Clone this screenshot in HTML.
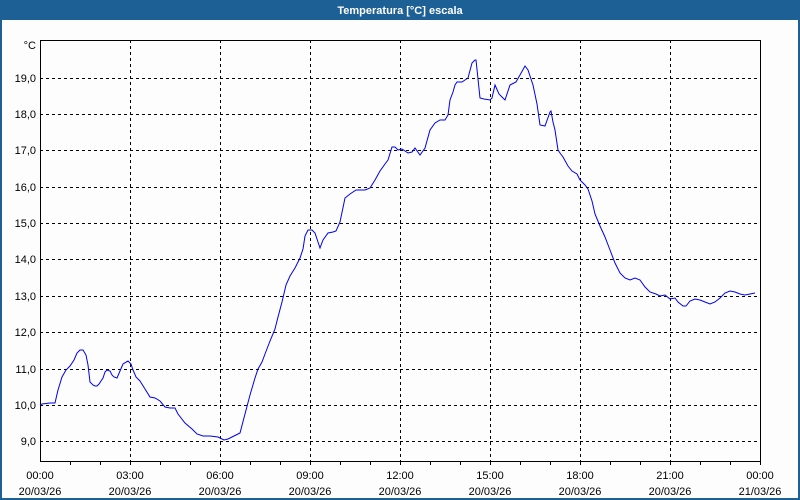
<!DOCTYPE html>
<html><head><meta charset="utf-8"><style>
html,body{margin:0;padding:0;background:#fff}
svg{display:block}
text{font-family:"Liberation Sans","DejaVu Sans",sans-serif;font-size:11px;fill:#000}
</style></head><body>
<svg width="800" height="500" xmlns="http://www.w3.org/2000/svg">
<rect x="0" y="0" width="800" height="500" fill="#1d6096"/>
<rect x="2" y="20" width="796" height="478" fill="#fcfdfc"/>
<text x="400" y="14" text-anchor="middle" style="fill:#fff;font-weight:bold;font-size:11px">Temperatura [°C] escala</text>
<g stroke="#000" stroke-width="1" stroke-dasharray="3,3" shape-rendering="crispEdges">
<line x1="130.5" y1="40" x2="130.5" y2="461"/><line x1="220.5" y1="40" x2="220.5" y2="461"/>
<line x1="310.5" y1="40" x2="310.5" y2="461"/><line x1="400.5" y1="40" x2="400.5" y2="461"/>
<line x1="490.5" y1="40" x2="490.5" y2="461"/><line x1="580.5" y1="40" x2="580.5" y2="461"/>
<line x1="670.5" y1="40" x2="670.5" y2="461"/>
<line x1="40" y1="78.5" x2="760" y2="78.5"/><line x1="40" y1="114.5" x2="760" y2="114.5"/>
<line x1="40" y1="150.5" x2="760" y2="150.5"/><line x1="40" y1="187.5" x2="760" y2="187.5"/>
<line x1="40" y1="223.5" x2="760" y2="223.5"/><line x1="40" y1="259.5" x2="760" y2="259.5"/>
<line x1="40" y1="296.5" x2="760" y2="296.5"/><line x1="40" y1="332.5" x2="760" y2="332.5"/>
<line x1="40" y1="369.5" x2="760" y2="369.5"/><line x1="40" y1="405.5" x2="760" y2="405.5"/>
<line x1="40" y1="441.5" x2="760" y2="441.5"/>
</g>
<rect x="40.5" y="40.5" width="720" height="421" fill="none" stroke="#000" stroke-width="1" shape-rendering="crispEdges"/>
<g stroke="#000" shape-rendering="crispEdges">
<line x1="70.5" y1="461" x2="70.5" y2="465"/><line x1="100.5" y1="461" x2="100.5" y2="465"/>
<line x1="130.5" y1="461" x2="130.5" y2="465"/><line x1="160.5" y1="461" x2="160.5" y2="465"/>
<line x1="190.5" y1="461" x2="190.5" y2="465"/><line x1="220.5" y1="461" x2="220.5" y2="465"/>
<line x1="250.5" y1="461" x2="250.5" y2="465"/><line x1="280.5" y1="461" x2="280.5" y2="465"/>
<line x1="310.5" y1="461" x2="310.5" y2="465"/><line x1="340.5" y1="461" x2="340.5" y2="465"/>
<line x1="370.5" y1="461" x2="370.5" y2="465"/><line x1="400.5" y1="461" x2="400.5" y2="465"/>
<line x1="430.5" y1="461" x2="430.5" y2="465"/><line x1="460.5" y1="461" x2="460.5" y2="465"/>
<line x1="490.5" y1="461" x2="490.5" y2="465"/><line x1="520.5" y1="461" x2="520.5" y2="465"/>
<line x1="550.5" y1="461" x2="550.5" y2="465"/><line x1="580.5" y1="461" x2="580.5" y2="465"/>
<line x1="610.5" y1="461" x2="610.5" y2="465"/><line x1="640.5" y1="461" x2="640.5" y2="465"/>
<line x1="670.5" y1="461" x2="670.5" y2="465"/><line x1="700.5" y1="461" x2="700.5" y2="465"/>
<line x1="730.5" y1="461" x2="730.5" y2="465"/><line x1="760.5" y1="461" x2="760.5" y2="465"/>
</g>
<g text-anchor="end">
<text x="36" y="49">°C</text>
<text x="36" y="82">19,0</text><text x="36" y="118">18,0</text><text x="36" y="154">17,0</text>
<text x="36" y="191">16,0</text><text x="36" y="227">15,0</text><text x="36" y="263">14,0</text>
<text x="36" y="300">13,0</text><text x="36" y="336">12,0</text><text x="36" y="373">11,0</text>
<text x="36" y="409">10,0</text><text x="36" y="445">9,0</text>
</g>
<g text-anchor="middle">
<text x="40" y="479">00:00</text><text x="40" y="495">20/03/26</text>
<text x="130" y="479">03:00</text><text x="130" y="495">20/03/26</text>
<text x="220" y="479">06:00</text><text x="220" y="495">20/03/26</text>
<text x="310" y="479">09:00</text><text x="310" y="495">20/03/26</text>
<text x="400" y="479">12:00</text><text x="400" y="495">20/03/26</text>
<text x="490" y="479">15:00</text><text x="490" y="495">20/03/26</text>
<text x="580" y="479">18:00</text><text x="580" y="495">20/03/26</text>
<text x="670" y="479">21:00</text><text x="670" y="495">20/03/26</text>
<text x="760" y="479">00:00</text><text x="760" y="495">21/03/26</text>
</g>
<polyline fill="none" stroke="#0000ee" stroke-width="1" points="40,405 42,404 50,403 55,403 58,390 62,377 66,370 70,366 74,360 77,353 80,350 83,350 86,355 88,365 90,382 93,385 95,386 97,386 99,384 103,378 105,372 107,370 110,371 112,375 114,377 117,378 120,371 123,364 128,361 131,364 133,370 136,377 140,381 145,389 150,397 155,398 160,401 165,407 170,408 175,408 178,414 185,423 192,429 197,434 203,436 210,436 218,437 224,440 228,439 236,435 240,433 245,414 250,395 255,378 258,369 262,362 265,354 270,341 275,329 278,317 282,302 286,285 290,276 295,268 300,258 303,249 305,236 308,230 312,230 315,233 320,248 323,240 328,233 333,232 336,231 340,222 345,198 350,194 356,190 365,190 370,188 375,180 380,171 385,164 388,160 392,147 395,147 398,150 402,149 405,151 408,153 412,152 415,148 420,155 425,148 430,130 435,123 440,120 445,120 448,115 450,100 453,92 455,85 457,82 462,82 465,80 468,78 472,63 475,60 476,60 480,98 484,99 490,100 492,98 495,85 499,94 502,97 505,100 510,85 512,84 516,82 520,75 525,66 528,70 533,85 537,104 540,125 545,126 550,112 551,111 553,122 555,130 558,150 560,153 563,157 568,166 572,171 577,174 580,180 585,185 588,189 592,201 595,214 600,226 605,237 610,250 615,263 620,273 625,278 630,280 635,278 640,280 645,287 650,292 656,294 660,296 665,295 670,299 675,298 678,302 683,306 686,306 690,301 695,299 700,300 705,302 710,304 715,302 720,298 725,293 730,291 735,292 740,294 745,295 750,294 755,293"/>
</svg>
</body></html>
